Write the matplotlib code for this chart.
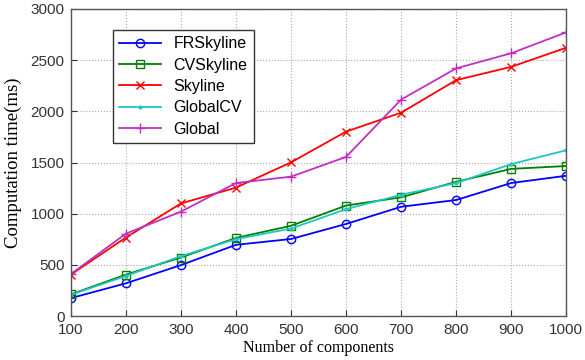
import numpy as np
import matplotlib
matplotlib.use('Agg')
import matplotlib.pyplot as plt

# numero de componentes
n_comp = [100, 200, 300, 400, 500, 600, 700, 800, 900, 1000]

# tiempos (ms)
fr_sky = [175, 320, 498, 696, 753, 900, 1068, 1134, 1300, 1371]
cv_sky = [212, 405, 572, 764, 882, 1080, 1160, 1312, 1438, 1466]
sky = [405, 767, 1100, 1255, 1502, 1802, 1987, 2305, 2435, 2622]
global_cv = [208, 392, 585, 752, 855, 1045, 1185, 1300, 1485, 1620]
glob = [410, 805, 1020, 1300, 1362, 1555, 2115, 2420, 2568, 2772]

fig = plt.figure(figsize=(5.85, 3.6), dpi=100)
ax = fig.add_axes([0.121, 0.122, 0.847, 0.853])

ax.plot(n_comp, fr_sky, color='b', ls='-', marker='o', lw=1.3, ms=6, mfc='none', label='FRSkyline')
ax.plot(n_comp, cv_sky, color='#008000', ls='-', marker='s', lw=1.3, ms=6, mfc='none', label='CVSkyline')
ax.plot(n_comp, sky, color='r', ls='-', marker='x', lw=1.3, ms=6, label='Skyline')
ax.plot(n_comp, global_cv, color='#1fc6c6', ls='-', marker='.', lw=1.3, ms=4, label='GlobalCV')
ax.plot(n_comp, glob, color='#c030c0', ls='-', marker='+', lw=1.3, ms=7, label='Global')

ax.set_xlim(100, 1000)
ax.set_ylim(0, 3000)
ax.set_xticks(n_comp)
ax.set_yticks(np.arange(0, 3001, 500))
ax.grid(True, linestyle=':', color='#aaaaaa', lw=0.8)
ax.tick_params(direction='in', labelsize=11, length=4, colors='#333333')
ax.tick_params(axis='y', pad=4.5)
ax.tick_params(axis='x', pad=5)
for lab in ax.get_xticklabels() + ax.get_yticklabels():
    lab.set_family('Liberation Sans')
for s in ax.spines.values():
    s.set_color('#555555')
    s.set_linewidth(1.0)

ax.set_xlabel('Number of components', family='Liberation Serif', fontsize=11.5, labelpad=2)
ax.set_ylabel('Computation time(ms)', family='Liberation Serif', fontsize=13.5, labelpad=6)

leg = ax.legend(loc='upper left', bbox_to_anchor=(0.085, 0.932), borderaxespad=0,
                prop={'family': 'Liberation Sans', 'size': 11.5}, fancybox=False,
                framealpha=1, edgecolor='#333333', handlelength=2.6, labelspacing=0.4)
leg.get_frame().set_linewidth(1.0)

plt.savefig('out.png', dpi=100)
